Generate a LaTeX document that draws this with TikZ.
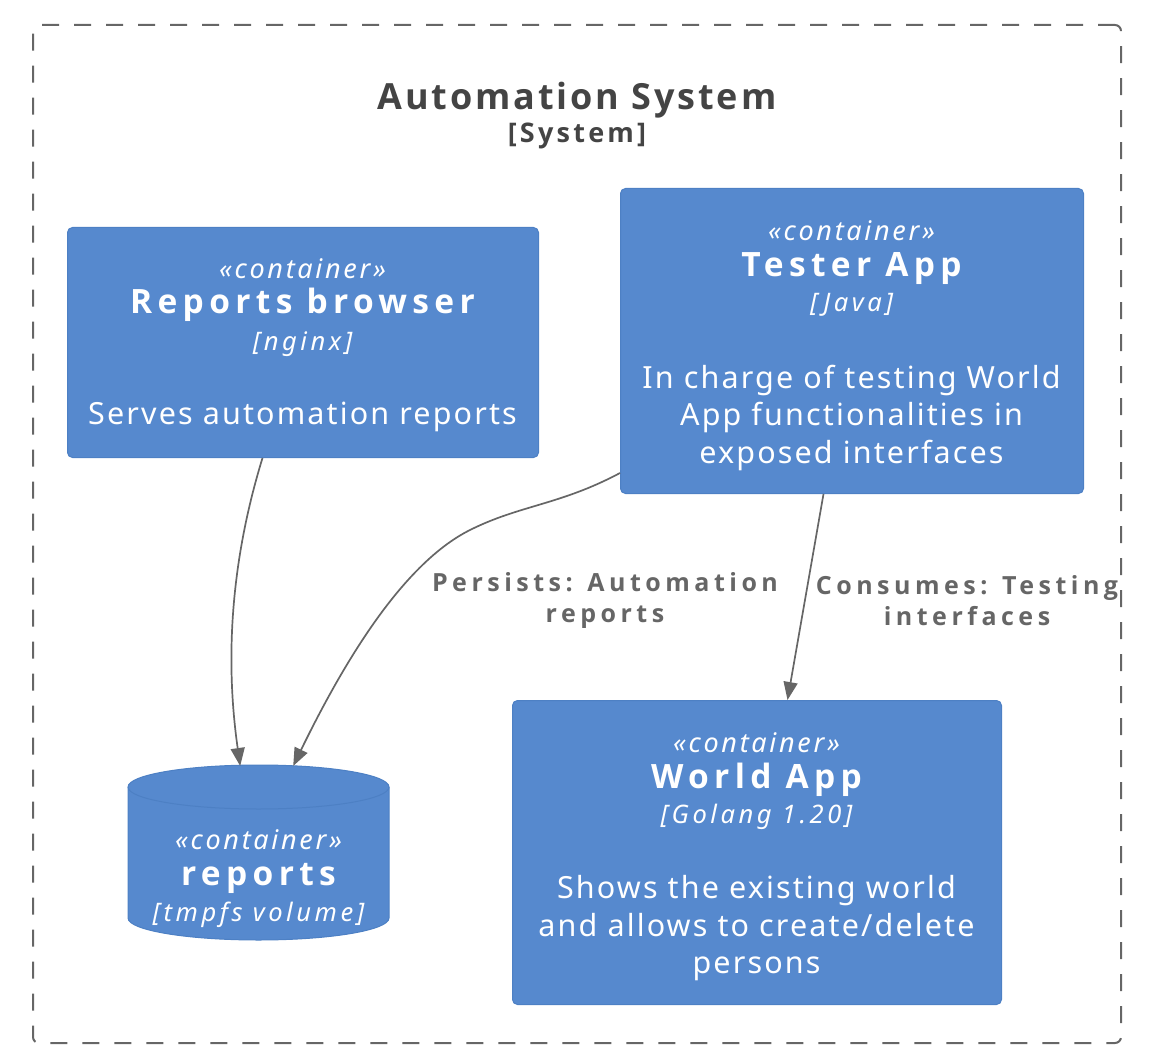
\documentclass[tikz,border=0pt]{standalone}
\usepackage{fontspec}
\setmainfont{Noto Sans}
\newfontfamily\ttlfont{Open Sans}[LetterSpace=16]
\newfontfamily\sysfont{Open Sans}[LetterSpace=8]
\newfontfamily\systypefont{Open Sans}[LetterSpace=12]
\newfontfamily\lblfont{Open Sans}[LetterSpace=18]
\newfontfamily\descfont{Noto Sans}[LetterSpace=7]
\newfontfamily\stereofont{Noto Sans}[LetterSpace=10]
\newfontfamily\techfont{Noto Sans}[LetterSpace=14]
\usetikzlibrary{arrows.meta,calc}
\definecolor{boxfill}{HTML}{5689CE}
\definecolor{boxline}{HTML}{4D80C4}
\definecolor{linegray}{HTML}{666666}
\definecolor{titlegray}{HTML}{444444}
\tikzset{
  box/.style={draw=boxline, fill=boxfill, rounded corners=5pt, line width=1pt, inner sep=0pt, anchor=north west},
  stereo/.style={text=white, inner sep=0pt, font=\stereofont\fontsize{27}{30}\selectfont\itshape},
  ttl/.style={text=white, inner sep=0pt, font=\ttlfont\fontsize{33.5}{40}\selectfont\bfseries},
  tech/.style={text=white, inner sep=0pt, font=\techfont\fontsize{25.5}{28}\selectfont\itshape},
  desc/.style={text=white, inner sep=0pt, align=center, font=\descfont\fontsize{30.5}{37.5}\selectfont},
  rlabel/.style={text=linegray, inner sep=0pt, align=center, font=\lblfont\fontsize{25}{31}\selectfont\bfseries},
  conn/.style={draw=linegray, line width=1.7pt, -{Triangle[length=18pt,width=14pt]}},
}
\begin{document}
\begin{tikzpicture}[x=1pt,y=-1pt]
\useasboundingbox (0,0) rectangle (1154,1064);
% boundary
\node[draw=linegray, line width=2pt, dash pattern=on 17pt off 15pt, rounded corners=6pt, minimum width=1088pt, minimum height=1018pt, inner sep=0pt, anchor=north west] (sys) at (32,24) {};
\node[text=titlegray, inner sep=0pt, font=\sysfont\fontsize{36}{40}\selectfont\bfseries] (systitle) at (577,100) {Automation System};
\node[text=titlegray, inner sep=0pt, font=\systypefont\fontsize{27}{28}\selectfont\bfseries] (systype) at (577,136) {[System]};

% Reports browser
\node[box, minimum width=471pt, minimum height=230pt] (rb) at (67,227) {};
\node[stereo] (rbs) at (302.5,269) {«container»};
\node[ttl] (rbt) at (302.5,305) {Reports browser};
\node[tech] (rbk) at (302.5,344) {[nginx]};
\node[desc] (rbd) at (302.5,417) {Serves automation reports};

% Tester App
\node[box, minimum width=463pt, minimum height=305pt] (ta) at (620,188) {};
\node[stereo] (tas) at (851.5,231) {«container»};
\node[ttl] (tat) at (851.5,269) {Tester App};
\node[tech] (tak) at (851.5,305) {[Java]};
\node[desc] (tad) at (851.5,417.5) {In charge of testing World\\App functionalities in\\exposed interfaces};

% World App
\node[box, minimum width=489pt, minimum height=304pt] (wa) at (512,700) {};
\node[stereo] (was) at (756.5,743) {«container»};
\node[ttl] (wat) at (756.5,780) {World App};
\node[tech] (wak) at (756.5,817) {[Golang 1.20]};
\node[desc] (wad) at (756.5,928.5) {Shows the existing world\\and allows to create/delete\\persons};

% reports cylinder
\node[inner sep=0pt, minimum width=261pt, minimum height=175pt, anchor=north west] (rep) at (128,765) {};
\fill[boxfill, draw=boxline, line width=1pt]
  (128,787) -- (128,918) arc[start angle=180, end angle=360, x radius=130.5pt, y radius=22pt]
  -- (389,787) arc[start angle=0, end angle=180, x radius=130.5pt, y radius=22pt] -- cycle;
\draw[boxline, line width=1pt] (128,787) arc[start angle=180, end angle=360, x radius=130.5pt, y radius=22pt];
\node[stereo] (reps) at (258.5,840) {«container»};
\node[ttl] (rept) at (258.5,878) {reports};
\node[tech] (repk) at (258.5,915) {[tmpfs volume]};

% connectors
\draw[conn] ([xshift=-40.5pt]rb.south) .. controls (225,580) and (228,680) .. ([xshift=-18.5pt,yshift=-1pt]rep.north);
\draw[conn] ([yshift=21pt]ta.south west) .. controls (560,505) and (520,505) .. (470,530) .. controls (400,565) and (340,670) .. ([xshift=34.5pt,yshift=-1pt]rep.north);
\draw[conn] ([xshift=-28.5pt]ta.south) -- ([xshift=30.5pt]wa.north);

\node[rlabel] (l1) at (605,600.5) {Persists: Automation\\reports};
\node[rlabel] (l2) at (967,600.5) {Consumes: Testing\\interfaces};
\end{tikzpicture}
\end{document}
